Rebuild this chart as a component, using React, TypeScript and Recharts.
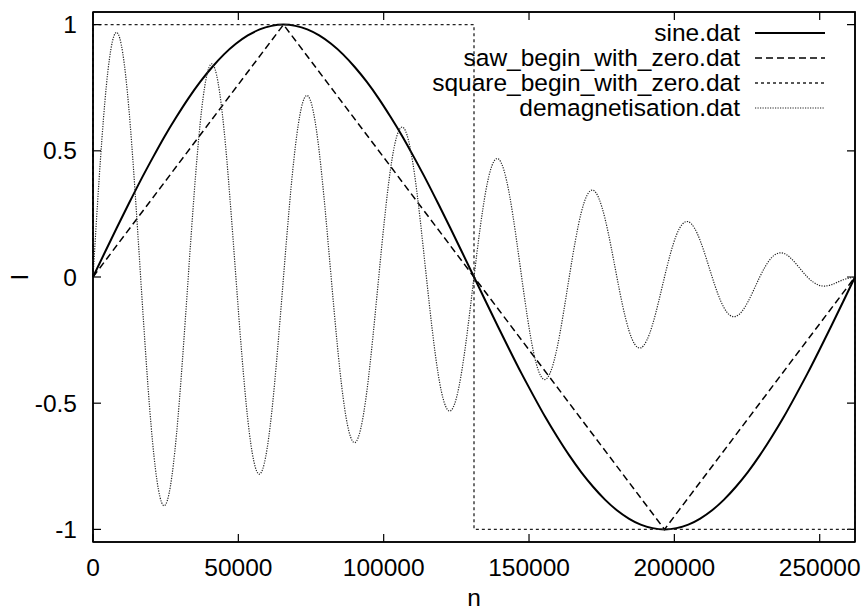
import { LineChart, Line, XAxis, YAxis } from 'recharts';

// sample positions shared by sine.dat and demagnetisation.dat
const nGrid = [
  0, 4096, 8192, 12288, 16384, 20480, 24576, 28672, 32768, 36864, 40960, 45056, 49152, 53248, 57344, 61440,
  65536, 69632, 73728, 77824, 81920, 86016, 90112, 94208, 98304, 102400, 106496, 110592, 114688, 118784, 122880, 126976,
  131072, 135168, 139264, 143360, 147456, 151552, 155648, 159744, 163840, 167936, 172032, 176128, 180224, 184320, 188416, 192512,
  196608, 200704, 204800, 208896, 212992, 217088, 221184, 225280, 229376, 233472, 237568, 241664, 245760, 249856, 253952, 258048,
  262144,
];

const sineValues = [
  0, 0.098, 0.195, 0.29, 0.383, 0.471, 0.556, 0.634, 0.707, 0.773, 0.831, 0.882, 0.924, 0.957, 0.981, 0.995,
  1, 0.995, 0.981, 0.957, 0.924, 0.882, 0.831, 0.773, 0.707, 0.634, 0.556, 0.471, 0.383, 0.29, 0.195, 0.098,
  0, -0.098, -0.195, -0.29, -0.383, -0.471, -0.556, -0.634, -0.707, -0.773, -0.831, -0.882, -0.924, -0.957, -0.981, -0.995,
  -1, -0.995, -0.981, -0.957, -0.924, -0.882, -0.831, -0.773, -0.707, -0.634, -0.556, -0.471, -0.383, -0.29, -0.195, -0.098,
  0,
];

const demagValues = [
  0, 0.696, 0.969, 0.674, 0, -0.652, -0.906, -0.63, 0, 0.608, 0.844, 0.586, 0, -0.564, -0.781, -0.541,
  0, 0.519, 0.719, 0.497, 0, -0.475, -0.656, -0.453, 0, 0.431, 0.594, 0.409, 0, -0.387, -0.531, -0.365,
  0, 0.343, 0.469, 0.32, 0, -0.298, -0.406, -0.276, 0, 0.254, 0.344, 0.232, 0, -0.21, -0.281, -0.188,
  0, 0.166, 0.219, 0.144, 0, -0.122, -0.156, -0.099, 0, 0.077, 0.094, 0.055, 0, -0.033, -0.031, -0.011,
  0,
];

const sawN = [0, 65536, 196608, 262144];
const sawValues = [0, 1, -1, 0];

const squareN = [0, 0, 131072, 131072, 262144, 262144];
const squareValues = [0, 1, 1, -1, -1, 0];

const xTicks = [0, 50000, 100000, 150000, 200000, 250000];
const yTicks = [-1, -0.5, 0, 0.5, 1];

const X_MAX = 262144;
const Y_MIN = -1.05;
const Y_MAX = 1.05;

const toRows = (ns: number[], vs: number[]) => ns.map((n, i) => ({ n, v: vs[i] }));

const series = [
  { name: 'sine.dat', data: toRows(nGrid, sineValues), type: 'natural', width: 2, dash: undefined, color: '#000' },
  { name: 'saw_begin_with_zero.dat', data: toRows(sawN, sawValues), type: 'linear', width: 1.5, dash: '7 4', color: '#000' },
  { name: 'square_begin_with_zero.dat', data: toRows(squareN, squareValues), type: 'linear', width: 1.3, dash: '3 3', color: '#222' },
  { name: 'demagnetisation.dat', data: toRows(nGrid, demagValues), type: 'natural', width: 1.2, dash: '1.2 1.3', color: '#222' },
];

const W = 868;
const H = 613;
const M = { top: 12, right: 13, bottom: 0, left: 0 };
const Y_AXIS_W = 93;
const X_AXIS_H = 71;

const FONT = '"Liberation Sans", Arial, sans-serif';
const FS = 24.5;
const TICK = 8;
// mirrored tick length on the top/right border, in data units (~8px)
const TICK_N = 2750;
const TICK_V = 0.032;
const frame = { stroke: '#000', strokeWidth: 1.5 };

// top + right border, drawn through the chart scales
const borderRows = [
  { n: 0, v: Y_MAX },
  { n: X_MAX, v: Y_MAX },
  { n: X_MAX, v: Y_MIN },
];

// mirrored ticks; null rows break the path between ticks
const mirrorTickRows = [
  ...xTicks.flatMap((t) => [
    { n: t, v: Y_MAX },
    { n: t, v: Y_MAX - TICK_V },
    { n: t, v: null },
  ]),
  ...yTicks.flatMap((t) => [
    { n: X_MAX, v: t },
    { n: X_MAX - TICK_N, v: t },
    { n: X_MAX, v: null },
  ]),
];

const BottomTick = (props: any) => {
  const { x, y, payload } = props;
  return (
    <g>
      <line x1={x} x2={x} y1={y} y2={y - TICK} stroke="#000" strokeWidth={1.2} />
      <text x={x} y={y + 34} textAnchor="middle" fontFamily={FONT} fontSize={FS} fill="#000">
        {payload.value}
      </text>
    </g>
  );
};

const LeftTick = (props: any) => {
  const { x, y, payload } = props;
  return (
    <g>
      <line x1={x} x2={x + TICK} y1={y} y2={y} stroke="#000" strokeWidth={1.2} />
      <text x={x - 16} y={y + 8.5} textAnchor="end" fontFamily={FONT} fontSize={FS} fill="#000">
        {payload.value}
      </text>
    </g>
  );
};

export default function App() {
  const plotLeft = M.left + Y_AXIS_W;
  const plotTop = M.top;
  const plotW = W - M.right - plotLeft;
  const plotH = H - M.bottom - X_AXIS_H - plotTop;

  return (
    <div style={{ position: 'absolute', left: 0, top: 0, width: W, height: H, background: '#fff' }}>
      <LineChart width={W} height={H} margin={M}>
        <XAxis
          dataKey="n"
          type="number"
          domain={[0, X_MAX]}
          ticks={xTicks}
          interval={0}
          height={X_AXIS_H}
          tickSize={0}
          tickMargin={0}
          tickLine={false}
          axisLine={frame}
          tick={BottomTick}
        />
        <YAxis
          type="number"
          domain={[Y_MIN, Y_MAX]}
          ticks={yTicks}
          interval={0}
          width={Y_AXIS_W}
          tickSize={0}
          tickMargin={0}
          tickLine={false}
          axisLine={frame}
          tick={LeftTick}
        />

        <Line
          data={borderRows}
          dataKey="v"
          name="border"
          type="linear"
          stroke="#000"
          strokeWidth={1.5}
          dot={false}
          activeDot={false}
          legendType="none"
          isAnimationActive={false}
        />
        <Line
          data={mirrorTickRows}
          dataKey="v"
          name="mirror-ticks"
          type="linear"
          stroke="#000"
          strokeWidth={1.2}
          dot={false}
          activeDot={false}
          legendType="none"
          isAnimationActive={false}
        />

        {series.map((s) => (
          <Line
            key={s.name}
            data={s.data}
            dataKey="v"
            name={s.name}
            type={s.type as any}
            stroke={s.color}
            strokeWidth={s.width}
            strokeDasharray={s.dash}
            dot={false}
            activeDot={false}
            isAnimationActive={false}
          />
        ))}
      </LineChart>

      {/* plot frame, key, axis titles */}
      <svg width={W} height={H} style={{ position: 'absolute', left: 0, top: 0, pointerEvents: 'none' }}>
        <rect x={plotLeft} y={plotTop} width={plotW} height={plotH} fill="none" stroke="#000" strokeWidth={1.5} />
        {series.map((s, i) => (
          <g key={s.name}>
            <text x={740} y={41 + i * 25} textAnchor="end" fontFamily={FONT} fontSize={FS} fill="#000">
              {s.name}
            </text>
            <line
              x1={755}
              x2={825}
              y1={33 + i * 25}
              y2={33 + i * 25}
              stroke={s.color}
              strokeWidth={s.width}
              strokeDasharray={s.dash}
            />
          </g>
        ))}
        <text x={474} y={606} textAnchor="middle" fontFamily={FONT} fontSize={FS} fill="#000">
          n
        </text>
        <text
          x={28}
          y={277}
          textAnchor="middle"
          fontFamily={FONT}
          fontSize={FS}
          fill="#000"
          transform="rotate(-90 28 277)"
        >
          I
        </text>
      </svg>
    </div>
  );
}
